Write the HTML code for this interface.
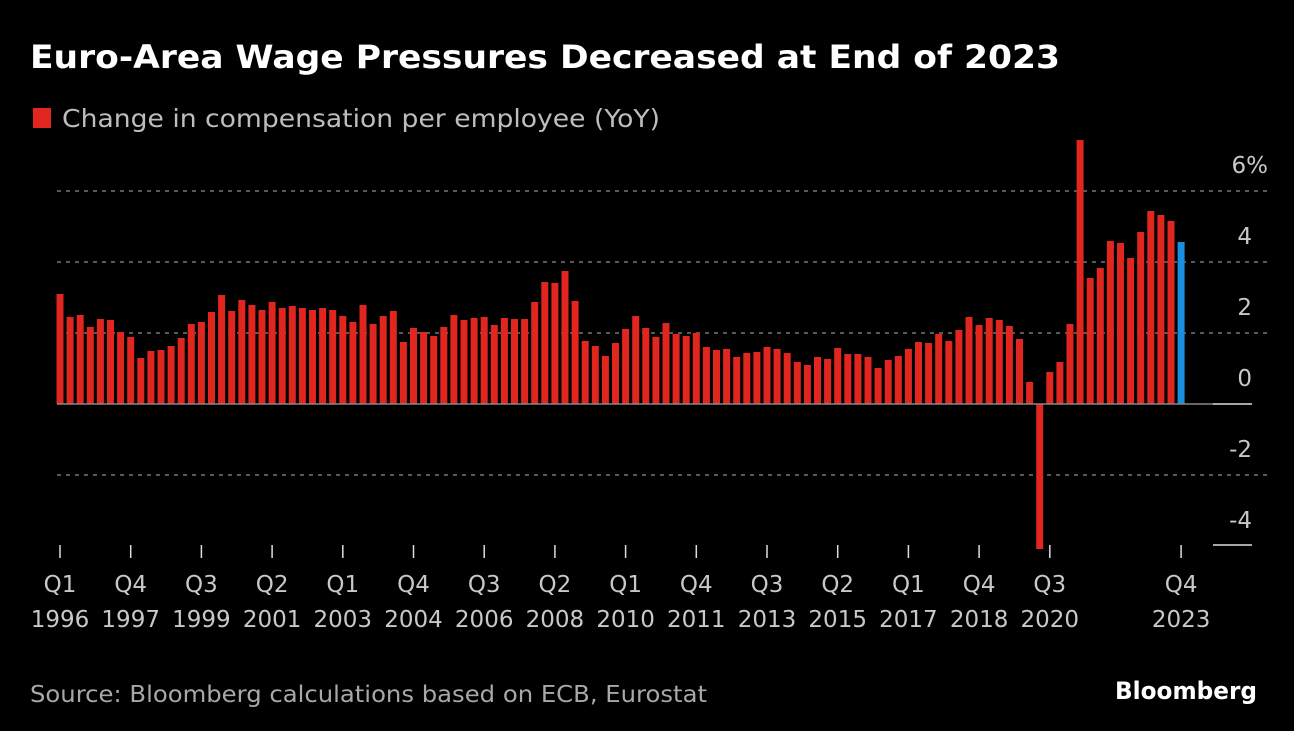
<!DOCTYPE html>
<html><head><meta charset="utf-8"><style>
body{margin:0;background:#000;width:1294px;height:727px;overflow:hidden;font-family:"DejaVu Sans",sans-serif}
</style></head><body>
<svg width="1294" height="727" xmlns="http://www.w3.org/2000/svg" font-family="DejaVu Sans, sans-serif">
<rect width="1294" height="727" fill="#000"/>
<text x="30" y="68" fill="#fff" font-size="32" font-weight="bold" textLength="1030" lengthAdjust="spacingAndGlyphs">Euro-Area Wage Pressures Decreased at End of 2023</text>
<rect x="33" y="108" width="18" height="20" fill="#e0261f"/>
<text x="62" y="127" fill="#bdbdbd" font-size="25" textLength="598" lengthAdjust="spacingAndGlyphs">Change in compensation per employee (YoY)</text>
<g stroke="#777" stroke-width="1.5" stroke-dasharray="4,5">
<line x1="57" y1="191" x2="1268" y2="191"/>
<line x1="57" y1="262" x2="1268" y2="262"/>
<line x1="57" y1="333" x2="1268" y2="333"/>
<line x1="57" y1="475" x2="1268" y2="475"/>
</g>
<g id="bars"></g>
<line x1="57" y1="404" x2="1213" y2="404" stroke="#888" stroke-width="1.5"/>
<line x1="1213" y1="404" x2="1252" y2="404" stroke="#ddd" stroke-width="1.5"/>
<line x1="1213" y1="545" x2="1252" y2="545" stroke="#ddd" stroke-width="1.5"/>
<g fill="#c8c8c8" font-size="23" text-anchor="end">
<text x="1268" y="173">6%</text>
<text x="1252" y="244">4</text>
<text x="1252" y="315">2</text>
<text x="1252" y="386">0</text>
<text x="1252" y="457">-2</text>
<text x="1252" y="528">-4</text>
</g>
<g id="ticks" stroke="#ddd" stroke-width="1.5"></g>
<g id="xl" fill="#c8c8c8" font-size="23" text-anchor="middle"></g>
<text x="30" y="702" fill="#a8a8a8" font-size="23" textLength="677" lengthAdjust="spacingAndGlyphs">Source: Bloomberg calculations based on ECB, Eurostat</text>
<text x="1257" y="699" fill="#fff" font-size="24" font-weight="bold" text-anchor="end" textLength="142" lengthAdjust="spacingAndGlyphs">Bloomberg</text>
</svg>
<script>
var tops=[294,317,315,327,319,320,332,337,358,351,350,346,338,324,322,312,295,311,300,305,310,302,308,306,308,310,308,310,316,322,305,324,316,311,342,328,332,336,327,315,320,318,317,325,318,319,319,302,282,283,271,301,341,346,356,343,329,316,328,337,323,334,336,333,347,350,349,357,353,352,347,349,353,362,365,357,359,348,354,354,357,368,360,356,349,342,343,334,341,330,317,325,318,320,326,339,382,549,372,362,324,140,278,268,241,243,258,232,211,215,221,242];
var ns="http://www.w3.org/2000/svg",g=document.getElementById('bars');
tops.forEach(function(t,i){var x=60+i*10.1-3.5;var r=document.createElementNS(ns,'rect');
var y=Math.min(t,404),h=Math.abs(404-t);r.setAttribute('x',x);r.setAttribute('y',y);r.setAttribute('width',7);r.setAttribute('height',h);
r.setAttribute('fill',i==111?'#1a8fe0':'#e0261f');g.appendChild(r);});
var labs=[["Q1","1996"],["Q4","1997"],["Q3","1999"],["Q2","2001"],["Q1","2003"],["Q4","2004"],["Q3","2006"],["Q2","2008"],["Q1","2010"],["Q4","2011"],["Q3","2013"],["Q2","2015"],["Q1","2017"],["Q4","2018"],["Q3","2020"]];
var tk=document.getElementById('ticks'),xl=document.getElementById('xl');
function add(x,a,b){var l=document.createElementNS(ns,'line');l.setAttribute('x1',x);l.setAttribute('x2',x);l.setAttribute('y1',545);l.setAttribute('y2',558);tk.appendChild(l);
[[a,592],[b,627]].forEach(function(p){var t=document.createElementNS(ns,'text');t.setAttribute('x',x);t.setAttribute('y',p[1]);t.textContent=p[0];xl.appendChild(t);});}
labs.forEach(function(l,k){add(60+7*k*10.1,l[0],l[1]);});
add(60+111*10.1,"Q4","2023");
</script>
</body></html>
